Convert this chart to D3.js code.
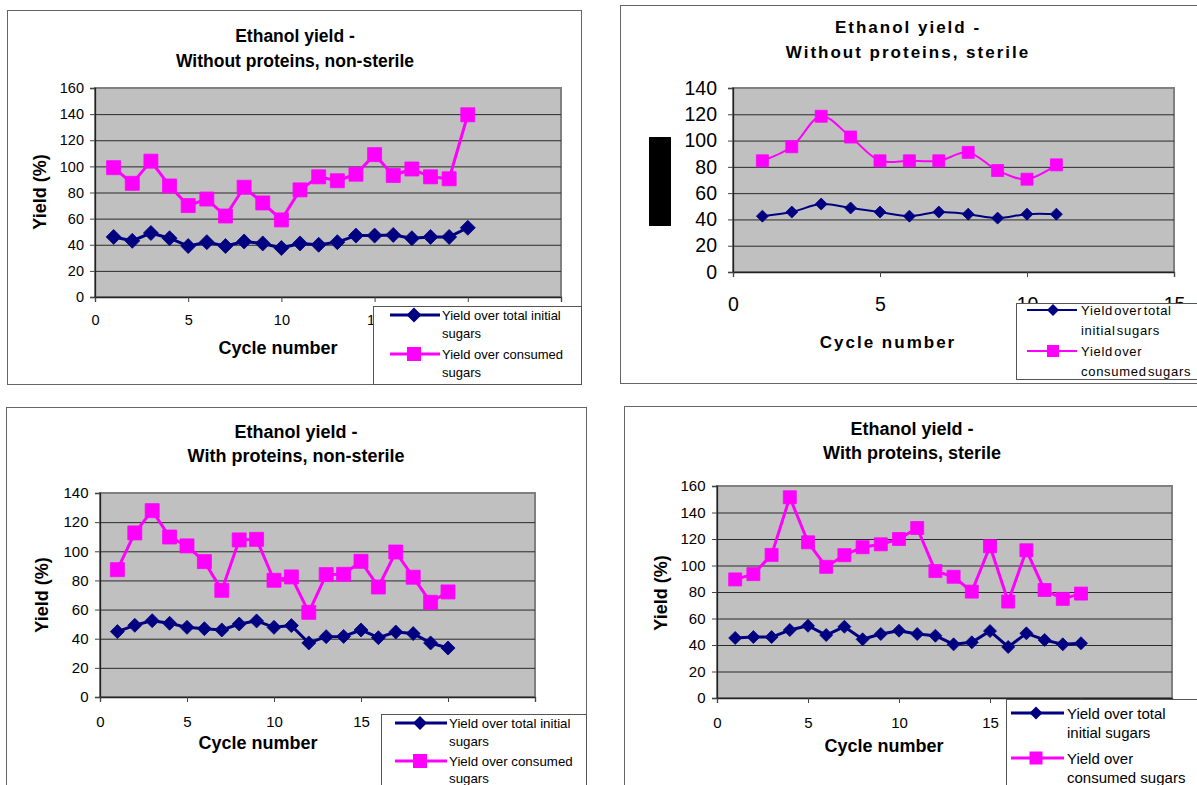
<!DOCTYPE html>
<html><head><meta charset="utf-8">
<script src="https://cdn.jsdelivr.net/npm/d3@7"></script>
<style>
body{margin:0;background:#fff;overflow:hidden}
svg{display:block}
text{font-family:"Liberation Sans",Arial,Helvetica,sans-serif;fill:#000}
</style>
</head><body>
<svg id="c" width="1197" height="785"></svg>
<script>
// ---------- DATA ----------
const cycles20 = [1,2,3,4,5,6,7,8,9,10,11,12,13,14,15,16,17,18,19,20];
const cycles11 = [1,2,3,4,5,6,7,8,9,10,11];

const yTicks160 = [0,20,40,60,80,100,120,140,160];
const yTicks140 = [0,20,40,60,80,100,120,140];
const xTicks25 = [0,5,10,15,20,25];
const xTicks15 = [0,5,10,15];
// tick labels that the legend box covers completely in the original
const hiddenUnderLegend = [20,25];

const titleLine1 = "Ethanol yield -";
const subtitles = ["Without proteins, non-sterile","Without proteins, sterile","With proteins, non-sterile","With proteins, sterile"];
const xAxisTitle = "Cycle number";
const yAxisTitle = "Yield (%)";
const legendWide = [["Yield over total initial","sugars"],["Yield over consumed","sugars"]];
const legendNarrow = [["Yield over total","initial sugars"],["Yield over","consumed sugars"]];

// Without proteins, non-sterile
const wpNsTotal    = [46,43,49,45,39,42,39,42.5,41,37.5,41,40,42,47,47,47.5,45,46,46,53];
const wpNsConsumed = [99,87,104,85,70,75,62,84,72,59,82,92,89,94,109,93,98,92,90.5,139.5];
// Without proteins, sterile
const wpStTotal    = [42.5,45.6,51.7,48.7,45.6,42.5,45.6,44,41,44,44];
const wpStConsumed = [84.6,95.3,118.5,102.7,84.6,84.6,84.6,91,77.2,70.6,81.5];
// With proteins, non-sterile
const pNsTotal    = [44.9,49.2,52.4,50.6,47.8,46.9,46,50.1,52.2,47.8,49,37.1,41.4,41.6,46,40.7,44.6,43.5,37.1,33.6];
const pNsConsumed = [87.4,112.6,127.9,109.8,103.7,92.9,73.2,107.8,108.2,80.1,82.4,58.1,84,84.2,93.1,75.5,99.5,82.2,65,72.1];
// With proteins, sterile
const pStTotal    = [45.3,46,46,51.3,54.5,47.5,53.8,44.3,48.3,50.8,48.3,47,40.5,42,50.5,38.5,48.8,43.8,40.5,41.3];
const pStConsumed = [89.5,93.5,108,151.5,117.5,99,107.8,113.8,116,120,128.3,95.8,91.5,80.3,114.5,72.8,111.5,81.5,74.8,78.8];

const NAVY = "#000080", MAGENTA = "#FF00FF";

// ---------- LAYOUT ----------
const charts = [
  {frame:[7,10,574,374], plot:[95,561,88,297], xDom:[0,25], xTicks:xTicks25, hide:hiddenUnderLegend, yDom:[0,160], yTicks:yTicks160,
   cycles:cycles20, total:wpNsTotal, consumed:wpNsConsumed, sub:subtitles[0],
   titleX:295, titleY:[36,61], titleSize:17.5, ls:0, tickSize:14.5, xLabY:320, yLabGap:11,
   ylab:[40,192], xlab:[278,348], labSize:18,
   legend:{x:373,y:306,w:208,h:78,l0:390,l1:440,m:414,tx:442,rows:[315,333,354,372],fs:13,ls:0,ws:0,labels:legendWide},
   sq:14, dia:7.5, sw:3, smooth:false},
  {frame:[620,5,600,378], plot:[733,1174,88,272], xDom:[0,15], xTicks:xTicks15, hide:[], yDom:[0,140], yTicks:yTicks140,
   cycles:cycles11, total:wpStTotal, consumed:wpStConsumed, sub:subtitles[1],
   titleX:908, titleY:[27,52], titleSize:17, ls:2, tickSize:19.5, xLabY:304, yLabGap:16,
   blackBox:[649,137,22,89], xlab:[888,342], labSize:17,
   legend:{x:1016,y:303,w:200,h:76,l0:1027,l1:1077,m:1053,tx:1081,rows:[310,330,351,371],fs:13,ls:0.7,ws:-3,labels:legendNarrow},
   sq:12, dia:6, sw:2, smooth:true},
  {frame:[6,407,580,400], plot:[100,535,493,697], xDom:[0,25], xTicks:xTicks25, hide:hiddenUnderLegend, yDom:[0,140], yTicks:yTicks140,
   cycles:cycles20, total:pNsTotal, consumed:pNsConsumed, sub:subtitles[2],
   titleX:296, titleY:[432,456], titleSize:18, ls:0, tickSize:15, xLabY:721, yLabGap:11.5,
   ylab:[42,595], xlab:[258,743], labSize:18,
   legend:{x:381,y:714,w:205,h:100,l0:395,l1:447,m:420,tx:449,rows:[723,741,761,778],fs:13.3,ls:0,ws:0,labels:legendWide},
   sq:14, dia:7, sw:3, smooth:false},
  {frame:[624,406,600,400], plot:[717,1172,486,698], xDom:[0,25], xTicks:xTicks25, hide:hiddenUnderLegend, yDom:[0,160], yTicks:yTicks160,
   cycles:cycles20, total:pStTotal, consumed:pStConsumed, sub:subtitles[3],
   titleX:912, titleY:[429,453], titleSize:18, ls:0, tickSize:15, xLabY:722, yLabGap:11.5,
   ylab:[661,593], xlab:[884,746], labSize:18,
   legend:{x:1006,y:699,w:200,h:100,l0:1011,l1:1064,m:1036,tx:1067,rows:[713,732,758,777],fs:15,ls:0,ws:0,labels:legendNarrow},
   sq:13, dia:6.5, sw:3, smooth:false}
];

const svg = d3.select("#c");

function diamondPath(cx, cy, h){ return `M${cx},${cy-h}L${cx+h},${cy}L${cx},${cy+h}L${cx-h},${cy}Z`; }
function squarePath(cx, cy, s){ const h=s/2; return `M${cx-h},${cy-h}h${s}v${s}h${-s}Z`; }

charts.forEach(c => {
  const g = svg.append("g");
  const [fx,fy,fw,fh] = c.frame;
  g.append("rect").attr("x",fx+0.5).attr("y",fy+0.5).attr("width",fw).attr("height",fh)
    .attr("fill","#fff").attr("stroke","#666").attr("stroke-width",1);

  const [px0,px1,py0,py1] = c.plot;
  const x = d3.scaleLinear().domain(c.xDom).range([px0,px1]);
  const y = d3.scaleLinear().domain(c.yDom).range([py1,py0]);

  g.append("rect").attr("x",px0).attr("y",py0).attr("width",px1-px0).attr("height",py1-py0)
    .attr("fill","#C0C0C0").attr("stroke","#808080").attr("stroke-width",2);

  const grid = g.append("g").attr("transform",`translate(${px0},0)`)
    .call(d3.axisLeft(y).tickValues(c.yTicks.filter(v=>v>c.yDom[0] && v<c.yDom[1])).tickSize(-(px1-px0)).tickFormat(""));
  grid.select(".domain").remove();
  grid.selectAll("line").attr("stroke","#2a2a2a").attr("stroke-width",1);

  const ya = g.append("g").attr("transform",`translate(${px0},0)`)
    .call(d3.axisLeft(y).tickValues(c.yTicks).tickSize(5).tickPadding(c.yLabGap-5));
  ya.select(".domain").attr("stroke","#222").attr("stroke-width",1.3);
  ya.selectAll(".tick line").attr("stroke","#444");
  ya.selectAll("text").attr("font-size",c.tickSize).attr("font-family",'"Liberation Sans",Arial,sans-serif').attr("fill","#000");

  const xa = g.append("g").attr("transform",`translate(0,${py1})`)
    .call(d3.axisBottom(x).tickValues(c.xTicks).tickSize(5).tickFormat(d => c.hide.includes(d) ? "" : d3.format("d")(d)));
  xa.select(".domain").attr("stroke","#222").attr("stroke-width",1.3);
  xa.selectAll(".tick line").attr("stroke","#444");
  xa.selectAll("text").attr("font-size",c.tickSize).attr("font-family",'"Liberation Sans",Arial,sans-serif').attr("fill","#000")
    .attr("y",null).attr("dy",null).attr("dominant-baseline","central")
    .attr("transform",`translate(0,${c.xLabY-py1})`);

  const curve = c.smooth ? d3.curveCatmullRom.alpha(0.5) : d3.curveLinear;
  const series = [
    {vals:c.total, color:NAVY, shape:"d"},
    {vals:c.consumed, color:MAGENTA, shape:"s"}
  ];
  series.forEach(s => {
    const pts = c.cycles.map((cy,i)=>[cy, s.vals[i]]);
    g.append("path").attr("d", d3.line().x(d=>x(d[0])).y(d=>y(d[1])).curve(curve)(pts))
      .attr("fill","none").attr("stroke",s.color).attr("stroke-width",c.sw).attr("stroke-linejoin","round");
    g.append("g").selectAll("path").data(pts).join("path")
      .attr("d", d => s.shape==="d" ? diamondPath(x(d[0]),y(d[1]),c.dia) : squarePath(x(d[0]),y(d[1]),c.sq))
      .attr("fill",s.color).attr("stroke",s.color).attr("stroke-width",0.8);
  });

  const tt = g.append("g").attr("font-weight","bold").attr("font-size",c.titleSize)
    .attr("text-anchor","middle").attr("letter-spacing",c.ls);
  tt.append("text").attr("x",c.titleX).attr("y",c.titleY[0]).attr("dominant-baseline","central").text(titleLine1);
  tt.append("text").attr("x",c.titleX).attr("y",c.titleY[1]).attr("dominant-baseline","central").text(c.sub);

  g.append("text").attr("x",c.xlab[0]).attr("y",c.xlab[1]).attr("text-anchor","middle")
    .attr("dominant-baseline","central").attr("font-weight","bold").attr("font-size",c.labSize)
    .attr("letter-spacing",c.ls).text(xAxisTitle);
  if (c.ylab) {
    g.append("text").attr("transform",`translate(${c.ylab[0]},${c.ylab[1]}) rotate(-90)`)
      .attr("text-anchor","middle").attr("dominant-baseline","central")
      .attr("font-weight","bold").attr("font-size",c.labSize).text(yAxisTitle);
  }
  if (c.blackBox) {
    const [bx,by,bw,bh] = c.blackBox;
    g.append("rect").attr("x",bx).attr("y",by).attr("width",bw).attr("height",bh).attr("fill","#000");
  }

  const L = c.legend;
  const lg = g.append("g");
  lg.append("rect").attr("x",L.x+0.5).attr("y",L.y+0.5).attr("width",L.w).attr("height",L.h)
    .attr("fill","#fff").attr("stroke","#555").attr("stroke-width",1);
  series.forEach((s,i) => {
    const ly = L.rows[i*2];
    lg.append("line").attr("x1",L.l0).attr("x2",L.l1).attr("y1",ly).attr("y2",ly)
      .attr("stroke",s.color).attr("stroke-width",c.sw);
    lg.append("path").attr("d", s.shape==="d" ? diamondPath(L.m,ly,c.dia) : squarePath(L.m,ly,c.sq))
      .attr("fill",s.color);
    L.labels[i].forEach((t,j) => {
      lg.append("text").attr("x",L.tx).attr("y",L.rows[i*2+j]).attr("dominant-baseline","central")
        .attr("font-size",L.fs).attr("letter-spacing",L.ls).attr("word-spacing",L.ws).text(t);
    });
  });
});
</script>
</body></html>
